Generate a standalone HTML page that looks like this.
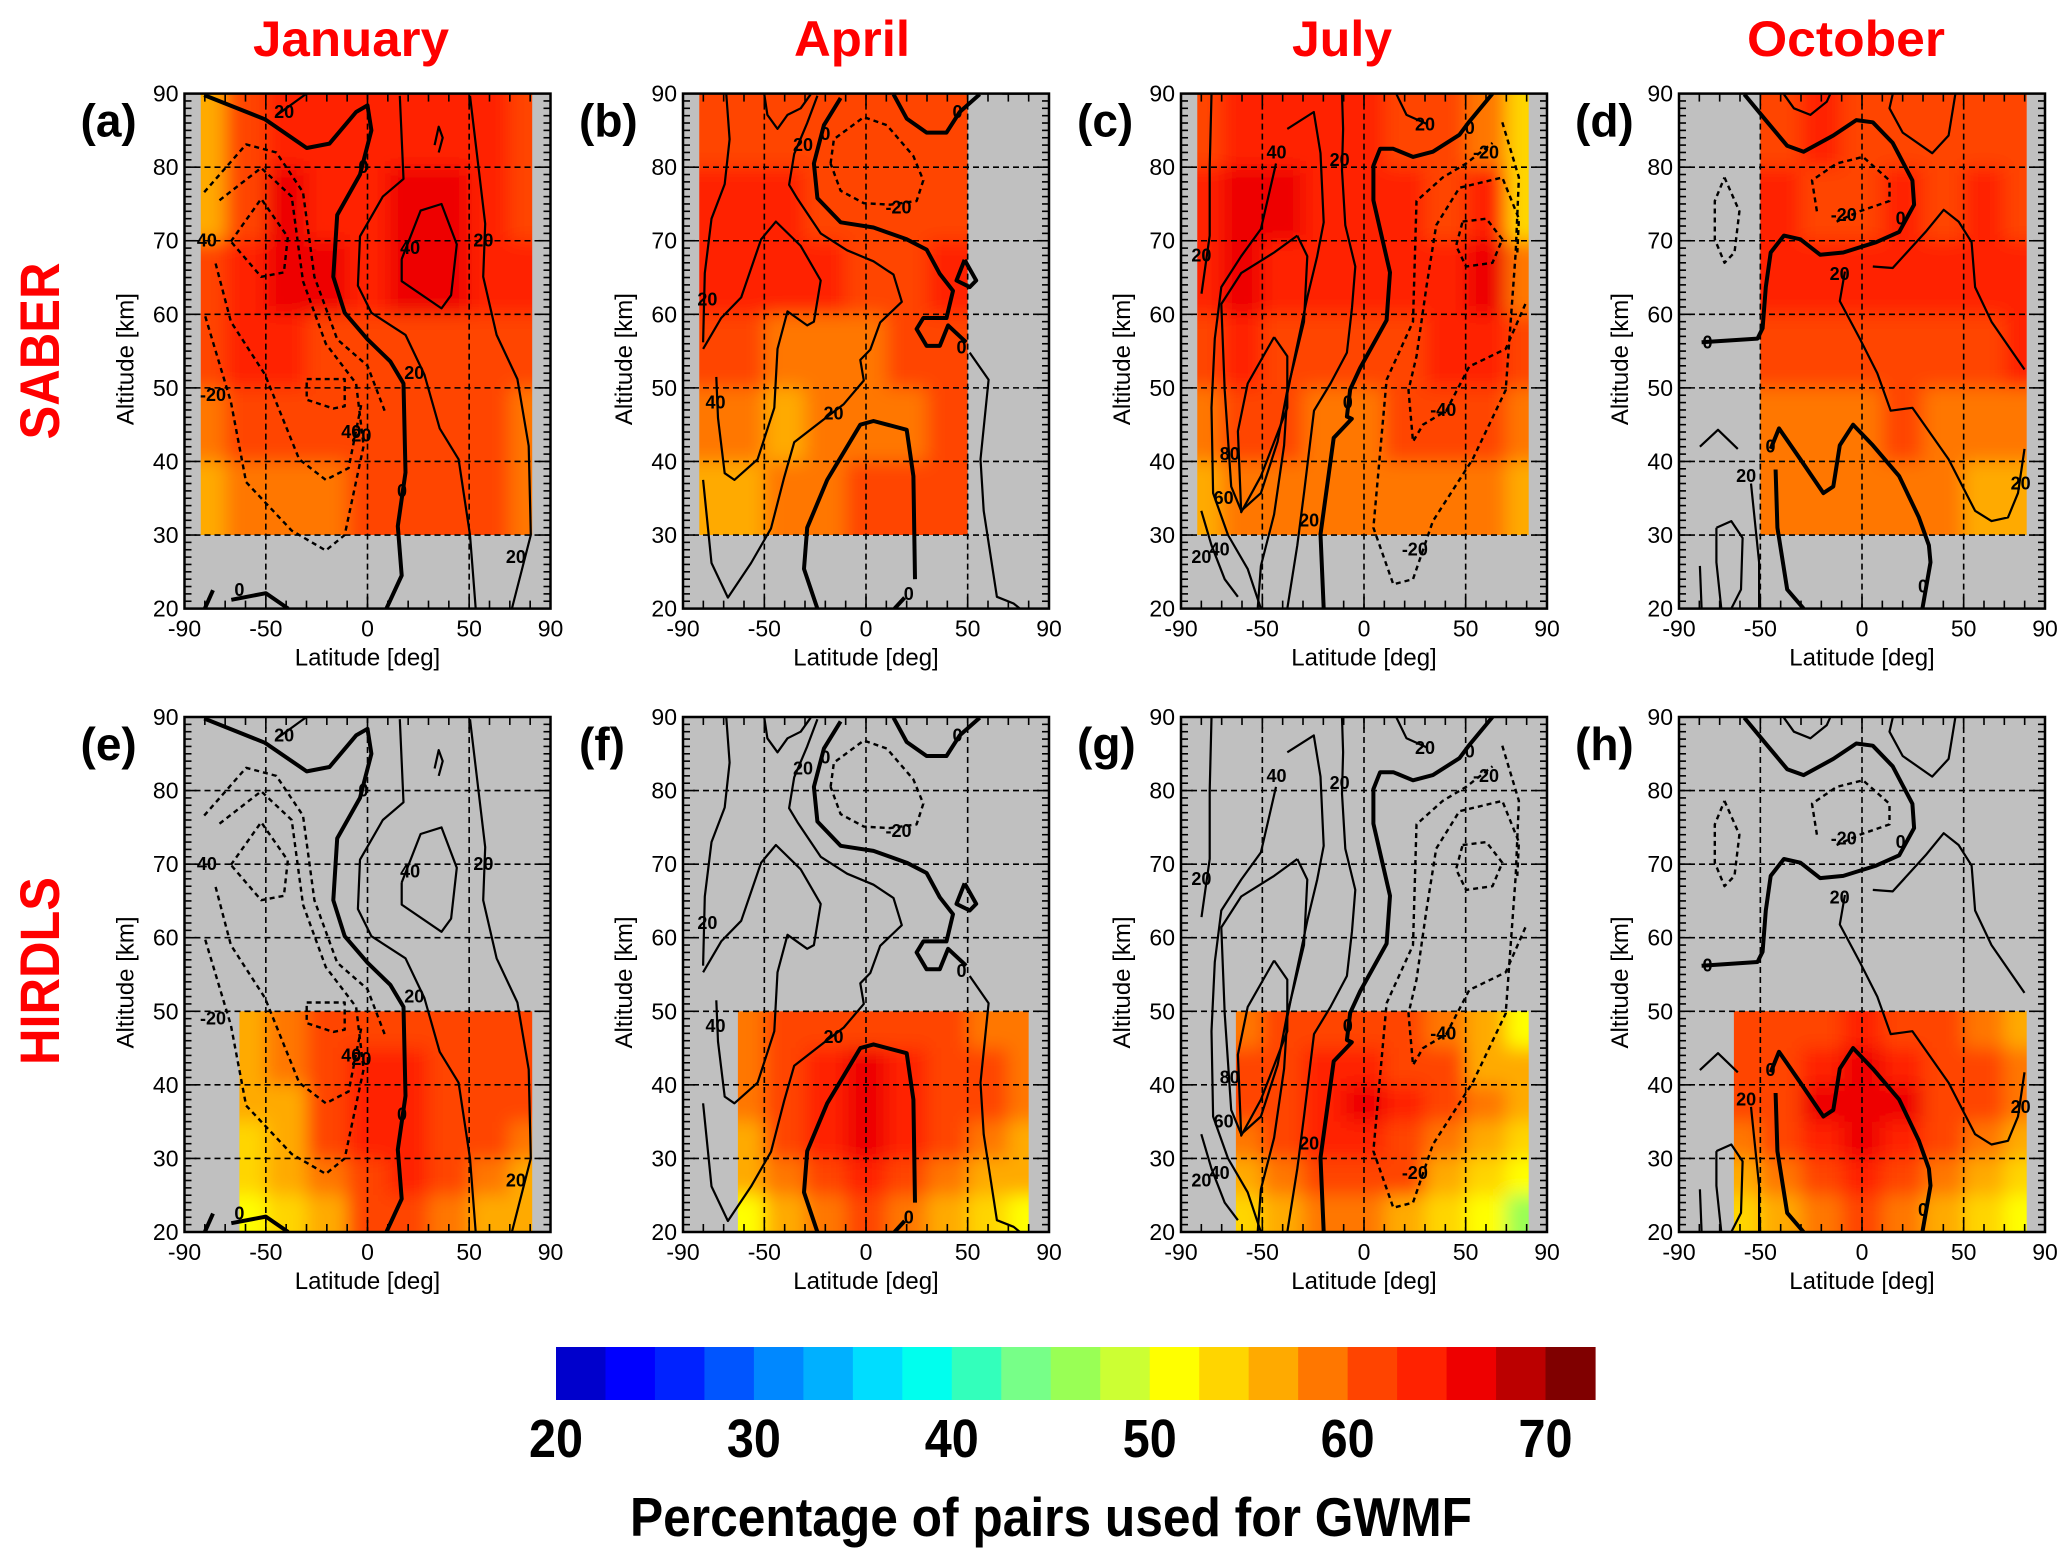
<!DOCTYPE html>
<html><head><meta charset="utf-8"><style>
html,body{margin:0;padding:0;background:#fff;}
svg{display:block;font-family:"Liberation Sans",sans-serif;}
</style></head><body>
<svg id="fig" width="2067" height="1558" viewBox="0 0 2067 1558" xmlns="http://www.w3.org/2000/svg">
<defs>
<filter id="blur" x="-20%" y="-20%" width="140%" height="140%"><feGaussianBlur stdDeviation="9"/></filter>
</defs>
<text x="351" y="56" font-size="50" font-weight="bold" fill="#f00" text-anchor="middle" textLength="196" lengthAdjust="spacingAndGlyphs">January</text>
<text x="852" y="56" font-size="50" font-weight="bold" fill="#f00" text-anchor="middle" textLength="116" lengthAdjust="spacingAndGlyphs">April</text>
<text x="1342" y="56" font-size="50" font-weight="bold" fill="#f00" text-anchor="middle" textLength="100" lengthAdjust="spacingAndGlyphs">July</text>
<text x="1846" y="56" font-size="50" font-weight="bold" fill="#f00" text-anchor="middle" textLength="198" lengthAdjust="spacingAndGlyphs">October</text>
<text transform="translate(59,351) rotate(-90)" font-size="56" font-weight="bold" fill="#f00" text-anchor="middle" textLength="177" lengthAdjust="spacingAndGlyphs">SABER</text>
<text transform="translate(59,971) rotate(-90)" font-size="56" font-weight="bold" fill="#f00" text-anchor="middle" textLength="188" lengthAdjust="spacingAndGlyphs">HIRDLS</text>
<g id="panels"></g>
<g id="cbar"></g>
<text x="1051" y="1536" font-size="55" font-weight="bold" fill="#000" text-anchor="middle" textLength="842" lengthAdjust="spacingAndGlyphs">Percentage of pairs used for GWMF</text>
</svg>
<script>
// ---- colour scale ----
const cbColors = ["#0000cc","#0000ff","#0022ff","#0055ff","#0088ff","#00b0ff","#00ddff","#00ffee","#33ffbb","#77ff88","#99ff55","#ccff33","#ffff00","#ffd500","#ffaa00","#ff7700","#ff4400","#ff2200","#ee0000","#bb0000","#800000"];
const cbMin = 20;
const cbStep = 2.5;
const cbTicks = [20,30,40,50,60,70];

// ---- heatmap data ----
const saberAlt = [85,75,65,55,45,35];
const hirdlsAlt = [47.5,42.5,37.5,32.5,27.5,22.5];
const latFull = [-80,-60,-40,-20,0,20,40,60,80];
const latB = [-80,-60,-40,-20,0,20,40];
const latD = [-40,-20,0,20,40,60,80];
const latH = [-60,-40,-20,0,20,40,60,80];
const valA = [[57,61,63,64,64,64,64,63,62],[55,62,66,64,64,65,65,63,62],[60,64,67,65,64,65,65,64,63],[60,63,64,62,61,62,62,62,61],[59,61,62,60,60,61,62,61,59],[56,58,59,59,60,61,61,60,58]];
const valB = [[61,62,62,62,62,61,61],[63,64,64,61,61,62,62],[64,64,64,63,62,62,63],[60,60,59,59,59,60,61],[58,58,57,58,59,59,60],[57,56,58,59,60,60,60]];
const valC = [[62,63,64,64,64,62,60,58,54],[64,65,65,64,64,63,62,64,53],[64,66,64,63,63,63,64,66,58],[62,63,62,61,61,61,63,63,60],[58,60,60,59,59,60,60,60,59],[57,58,59,59,59,59,59,58,56]];
const valD = [[62,63,62,62,62,62,62],[63,62,62,63,62,63,62],[64,64,64,63,63,63,64],[60,60,60,61,61,61,63],[59,58,59,60,59,58,58],[59,58,58,59,58,57,56]];
const valE = [[57,59,60,61,62,62,61,60],[56,58,61,63,63,62,61,60],[55,57,61,63,64,62,61,60],[54,56,60,63,64,62,60,58],[53,55,59,62,63,61,59,57],[51,53,56,60,61,59,57,55]];
const valF = [[58,60,61,62,61,60,59,58],[58,61,63,65,63,61,60,58],[58,61,63,66,64,62,60,58],[57,60,63,65,63,61,59,57],[55,58,61,63,61,59,57,55],[52,55,58,60,58,56,54,52]];
const valG = [[58,60,61,62,61,59,55,52],[60,61,63,64,62,60,57,55],[60,62,64,65,63,61,58,55],[59,61,63,64,62,59,56,53],[56,59,61,62,60,57,53,50],[53,55,58,59,57,54,50,46]];
const valH = [[60,61,62,63,62,61,59,57],[60,62,64,66,64,62,60,58],[60,62,65,67,65,62,60,58],[59,61,64,66,64,61,59,57],[57,59,62,64,62,59,56,54],[54,56,59,61,59,56,53,50]];

// ---- contour data (lat, alt) ----
const janC = [
 ["k",[[-80.3,89.8],[-50.4,86.5],[-29.9,82.6],[-18.7,83.2],[-5.6,87.5],[0,88.4],[1.9,85],[-3.7,79],[-14.9,73.5],[-16.8,65.1],[-11.2,60.2],[0,56.6],[11.2,53.6],[17.7,50.6],[18.7,38.5],[14.9,31.2],[16.8,24.5],[9.3,20]]],
 ["k",[[-67,21.2],[-50,22.1],[-39,20]]],
 ["k",[[-80,20],[-76,22.5]]],
 ["t",[[15.9,89.7],[17.7,78.4],[7.5,76],[-3.7,70.6],[-4.7,63.9],[1.9,60.2],[18.7,57.2],[28,51.8],[35.5,44.5],[44.8,40.3],[50.4,30],[53.2,20]]],
 ["t",[[16.8,67.5],[26.1,74.1],[36.4,75],[43.9,69.5],[41.1,62.6],[36.4,60.8],[16.8,64.5],[16.8,67.5]]],
 ["t",[[50.4,89.7],[57.9,72.3],[56.9,65.1],[63.5,57.2],[73.7,51.2],[79.3,42.1],[80.3,30],[71,20]]],
 ["t",[[33,83],[35,85.5],[37,84],[35,82]]],
 ["t",[[-45,87],[-35,89],[-30,90]]],
 ["d",[[-80.3,76.6],[-59.7,83.1],[-44.8,82],[-31.7,76.6],[-26.1,65.1],[-14.9,56.6],[0,53],[8.4,46.9]]],
 ["d",[[-72.8,75.5],[-52.3,79.9],[-37.3,76],[-31.7,64.5],[-20.5,56],[-5.6,50.6],[-1.9,42.1],[-11.2,30],[-20.5,27.9],[-37.3,30.6],[-59.7,37.2],[-67.2,48.1],[-80.3,60.2]]],
 ["d",[[-67.2,69.9],[-52.3,75.7],[-39.2,70.5],[-41.1,65.7],[-52.3,65.1],[-67.2,69.9]]],
 ["d",[[-74.7,66.9],[-67.2,59],[-50.4,51.8],[-33.6,40.3],[-20.5,37.5],[-9.3,39.1],[-2.8,48.1]]],
 ["d",[[-29.9,51.2],[-11.2,51.2],[-11.2,47.5],[-16.8,47.2],[-29.9,48.4],[-29.9,51.2]]]
];
const aprC = [
 ["k",[[13.5,89.9],[20,86.6],[29.8,84.7],[39.6,84.7],[46.1,87.5],[55.9,89.9]]],
 ["k",[[-12.5,89.4],[-20.7,85.7],[-25.6,80.5],[-23.9,75.8],[-12.5,72.5],[3.7,71.8],[20,70.2],[29.8,68.8],[36.3,65.5],[42.8,63.2],[39.6,59.5],[28.2,59.5],[24.9,58],[29.8,55.7],[36.3,55.7],[40.4,58.5],[49.3,56.2]]],
 ["k",[[48.5,67.4],[54.2,64.6],[51,63.7],[44.5,64.6],[48.5,67.4]]],
 ["k",[[-23.9,20],[-30.5,25.4],[-28.9,31],[-19.1,37.5],[-2.8,45],[3.7,45.5],[20,44.3],[23.3,38],[24.1,24]]],
 ["k",[[14,20],[19,21.5]]],
 ["t",[[-23.9,89.7],[-28.9,86],[-35.3,81.8],[-37.8,77.6],[-33.7,75.7],[-22.3,71],[-9.3,68.7],[3.7,67.2],[13.5,65.4],[17.6,61.7],[7,58.9],[2.1,55.2],[-2.8,53.8],[-1.1,51],[-10.9,47.8],[-22.3,45.4],[-35.3,42.6],[-40.2,37.9],[-46.7,30.9],[-56.5,26.2],[-67.9,21.5],[-76,26.2],[-80.1,37.5]]],
 ["t",[[-50,89.9],[-48.5,87.1],[-43.5,85.2],[-38.6,87.1],[-32.1,88],[-27.2,89.9]]],
 ["t",[[-80.1,55.3],[-71.2,59.5],[-61.4,62.3],[-51.6,70.2],[-44.3,72.6],[-32.1,69.3],[-22.3,64.6],[-25.6,59],[-28.9,58.5],[-38.6,60.4],[-43.5,55.3],[-45.1,47.3],[-53.3,40.3],[-64.7,37.5],[-69.5,38.4],[-72.8,45.9],[-73.6,51.5]]],
 ["t",[[-68.7,89.9],[-67.1,83.8],[-69.5,77.7],[-76,73],[-79.3,65.6],[-80.1,56.2]]],
 ["t",[[51,54.8],[60.3,51.1],[56.3,40.3],[57.9,33.3],[64.4,21.6],[72.6,20.7],[75.7,20]]],
 ["t",[[67,90],[80,90]]],
 ["d",[[-17.4,80.5],[-15.8,83.8],[-1.1,86.8],[10.3,85.7],[23.3,81.5],[28.2,78.2],[24.9,75.4],[11.9,74.9],[-1.1,75.1],[-12.5,76.8],[-17.4,80.5]]]
];
const julC = [
 ["k",[[63.2,90],[51.8,86.2],[46.9,84.4],[33.9,82.1],[24.1,81.4],[14.4,82.5],[7.9,82.5],[4.6,80.2],[4.6,75.5],[12.8,65.7],[11.1,59.2],[-1.9,52.7],[-6.8,49.8],[-8.4,46.1],[-6,45.8],[-14.9,43.2],[-21.4,30.1],[-19.8,20]]],
 ["t",[[-10.8,89.9],[-10.3,85.2],[-10.8,79.6],[-9.2,72.1],[-4.3,66.5],[-5.9,60.9],[-8.4,54.8],[-16.5,50.6],[-24.6,46.9],[-29.5,35.7],[-32.8,28.6],[-37.7,20]]],
 ["t",[[16,89.9],[20.9,87.1],[30.7,85.9]]],
 ["t",[[-37.7,85.2],[-24.7,87.5],[-21.4,81.9],[-19.8,72.5],[-23,67.9],[-27.9,62.3],[-34.4,53.8],[-37.7,49.2],[-39.3,42.2],[-44.2,32.8],[-50.7,25.8],[-52.3,20]]],
 ["t",[[-43.3,80.5],[-50.7,71.6],[-60.4,67.9],[-70.2,63.7],[-73.4,56.7],[-75,47.3],[-74.2,35.7],[-66.9,30],[-57.2,25.4],[-50.7,20]]],
 ["t",[[-32.8,70.7],[-27.9,67.9],[-29.5,59],[-34.4,53.4],[-37.7,49.7],[-42.5,42.7],[-50.7,35.7],[-60.4,33.3],[-65.3,36.6],[-68.5,49.7],[-70.2,61.4],[-60.4,65.6],[-44.2,68.4],[-32.8,70.7]]],
 ["t",[[-44.2,56.9],[-37.7,54.3],[-37.7,47.3],[-50.7,38],[-60.4,33.1],[-62,44.1],[-57.2,50.6],[-44.2,56.9]]],
 ["t",[[-75,89.9],[-75.9,80],[-75.9,70.7],[-79.9,62.8]]],
 ["t",[[-80,33.3],[-75,28.6],[-68.5,24],[-62,21.6]]],
 ["d",[[68,86.1],[76.2,78.6],[74.6,68.4],[69.7,49.7],[53.4,40.3],[33.9,31.9],[24.1,24],[14.4,23.3],[4.6,31],[11.1,51.1],[24.1,59],[25.8,75.4],[38.7,78.6],[50.2,80.5],[63.2,83.3]]],
 ["d",[[79.4,61.4],[69.7,55.3],[51.8,52.9],[40.5,46.9],[29,45],[24.1,42.7],[21.9,49.7],[25.8,54.3],[30.7,63.7],[35.5,72.1],[46.9,77.2],[68,78.6],[76.2,73],[75.4,68.4]]],
 ["d",[[48.5,72.6],[60.2,73],[68,70.2],[63.2,67],[50.2,66.5],[45.3,69.3],[48.5,72.6]]]
];
const octC = [
 ["k",[[-57.9,89.9],[-46.5,86.1],[-36.8,82.9],[-28.7,82.1],[-14.1,84.3],[-2.8,86.4],[5.3,86.1],[15.1,83.3],[24.8,78.2],[25.6,74.9],[18.3,71.2],[7,69.8],[-9.2,68.4],[-20.6,68.1],[-30.3,70.2],[-38.4,70.7],[-44.9,68.4],[-47.3,63.7],[-48.9,58.1],[-51.4,56.7],[-78.9,56.2]]],
 ["k",[[-44.9,41.7],[-40.8,44.5],[-30.3,40.3],[-19,35.7],[-14.1,36.6],[-10.9,42.2],[-4.4,45],[5.3,42.2],[18.3,38],[28,32.4],[32.9,28.6],[33.7,26.3],[29.7,20]]],
 ["k",[[-42.5,38.9],[-41.6,31],[-36.8,22.6],[-28.7,20]]],
 ["t",[[-38.4,89.9],[-33.5,88],[-25.4,87.1],[-17.3,88.9],[-15.7,89.9]]],
 ["t",[[15.1,89.9],[13.5,88],[20,84.7],[34.5,81.9],[42.6,84.3],[45.9,89.9]]],
 ["t",[[5.3,66.5],[15.1,66.3],[31.3,71.2],[40.2,74.2],[47.5,72.6],[53.9,69.8],[55.6,63.7],[63.7,59],[79.9,52.5]]],
 ["t",[[-8.4,65.8],[-10.9,61.8],[-1.1,56.7],[7.5,52],[14.1,46.9],[24.8,47.3],[42.6,40.3],[55.6,33.3],[63.7,31.9],[71.8,32.4],[76.7,35.7],[79.9,41.7]]],
 ["t",[[-79.7,42],[-70.8,44.3],[-61.1,41.7]]],
 ["t",[[-54.6,37],[-50.6,26.3],[-50.6,20]]],
 ["t",[[-71.6,31],[-64.3,31.9],[-58.7,29.6],[-59.5,22.6],[-64.3,20],[-69.2,20],[-71.6,26.3],[-71.6,31]]],
 ["t",[[-79.7,25.8],[-78.9,20]]],
 ["d",[[-22.2,74],[-24.6,78.2],[-12.5,80.5],[0.5,81.4],[13.5,78.2],[13.5,75.4],[-1.1,74],[-12.5,72.6]]],
 ["d",[[-67.6,78.6],[-60.3,74],[-62.7,68.4],[-67.6,67],[-72.4,70.2],[-72.4,75.4],[-67.6,78.6]]]
];
const janL = [[-2,80,"0"],[21,69,"40"],[57,70,"20"],[23,52,"20"],[-8,44,"40"],[-3,43.5,"20"],[17,36,"0"],[-76,49,"-20"],[-79,70,"40"],[73,27,"20"],[-41,87.5,"20"],[-63,22.5,"0"]];
const aprL = [[-20,84.5,"0"],[-31,83,"20"],[16,74.5,"-20"],[45,87.5,"0"],[47,55.5,"0"],[-16,46.5,"20"],[-74,48,"40"],[-78,62,"20"],[21,22,"0"]];
const julL = [[-43,82,"40"],[-12,81,"20"],[30,85.8,"20"],[52,85.3,"0"],[60,82,"-20"],[-8,48,"0"],[39,47,"-40"],[-66,41,"80"],[-69,35,"60"],[-71,28,"40"],[-80,27,"20"],[-80,68,"20"],[-27,32,"20"],[25,28,"-20"]];
const octL = [[19,73,"0"],[-9,73.5,"-20"],[-11,65.5,"20"],[-76,56.2,"0"],[-45,42,"0"],[-57,38,"20"],[30,23,"0"],[78,37,"20"]];

// ---- layout ----
const colX = [184.5, 683, 1181, 1679];
const rowY = [93.6, 717];
const PW = 366, PH = 515;
const panelDefs = [
 {id:"a",r:0,c:0,lat:latFull,alt:saberAlt,val:valA,dh:10,reg:[-82,81,30,90],con:janC,lab:janL},
 {id:"b",r:0,c:1,lat:latB,alt:saberAlt,val:valB,dh:10,reg:[-82,50,30,90],con:aprC,lab:aprL},
 {id:"c",r:0,c:2,lat:latFull,alt:saberAlt,val:valC,dh:10,reg:[-82,81,30,90],con:julC,lab:julL},
 {id:"d",r:0,c:3,lat:latD,alt:saberAlt,val:valD,dh:10,reg:[-50,81,30,90],con:octC,lab:octL},
 {id:"e",r:1,c:0,lat:latH,alt:hirdlsAlt,val:valE,dh:5,reg:[-63,81,20,50],con:janC,lab:janL},
 {id:"f",r:1,c:1,lat:latH,alt:hirdlsAlt,val:valF,dh:5,reg:[-63,80,20,50],con:aprC,lab:aprL},
 {id:"g",r:1,c:2,lat:latH,alt:hirdlsAlt,val:valG,dh:5,reg:[-63,81,20,50],con:julC,lab:julL},
 {id:"h",r:1,c:3,lat:latH,alt:hirdlsAlt,val:valH,dh:5,reg:[-63,81,20,50],con:octC,lab:octL}
];
const NS = "http://www.w3.org/2000/svg";
function mk(tag, attrs, parent){
  const e = document.createElementNS(NS, tag);
  for (const k in attrs) e.setAttribute(k, attrs[k]);
  if (parent) parent.appendChild(e);
  return e;
}
function colorFor(v){
  let i = Math.floor((v - cbMin)/cbStep);
  i = Math.max(0, Math.min(cbColors.length-1, i));
  return cbColors[i];
}
const root = document.getElementById("panels");
panelDefs.forEach(p => {
  const X0 = colX[p.c], Y0 = rowY[p.r];
  const xs = lat => X0 + (lat + 90)/180*PW;
  const ys = alt => Y0 + (90 - alt)/70*PH;
  const g = mk("g", {}, root);
  
  
  const bg = mk("rect", {x:X0, y:Y0, width:PW, height:PH, fill:"#c0c0c0"}, g);
  
  
  const cid = "clip" + p.id;
  const cp = mk("clipPath", {id:cid}, g);
  mk("rect", {x:xs(p.reg[0]), y:ys(p.reg[3]), width:xs(p.reg[1])-xs(p.reg[0]), height:ys(p.reg[2])-ys(p.reg[3])}, cp);
  const hc = mk("g", {"clip-path":"url(#"+cid+")"}, g);
  
  
  const hb = mk("g", {filter:"url(#blur)"}, hc);
  const nL = p.lat.length, nA = p.alt.length;
  const dl = p.lat[1]-p.lat[0];
  p.alt.forEach((a, i) => {
    p.lat.forEach((l, j) => {
      const l0 = j===0 ? -130 : l - dl/2;
      const l1 = j===nL-1 ? 130 : l + dl/2;
      const a1 = i===0 ? 110 : a + p.dh/2;
      const a0 = i===nA-1 ? 0 : a - p.dh/2;
      const cell = mk("rect", {x:xs(l0), y:ys(a1), width:xs(l1)-xs(l0)+0.5, height:ys(a0)-ys(a1)+0.5, fill:colorFor(p.val[i][j])}, hb);
      
      
    });
  });
  const clipFrame = "cf" + p.id;
  const cf = mk("clipPath", {id:clipFrame}, g);
  mk("rect", {x:X0, y:Y0, width:PW, height:PH}, cf);
  const gg = mk("g", {stroke:"#000", "stroke-width":1.6, "stroke-dasharray":"6,4", fill:"none"}, g);
  
  
  [-50,0,50].forEach(l => mk("line", {x1:xs(l), x2:xs(l), y1:Y0, y2:Y0+PH}, gg));
  [30,40,50,60,70,80].forEach(a => mk("line", {x1:X0, x2:X0+PW, y1:ys(a), y2:ys(a)}, gg));
  const cg = mk("g", {"clip-path":"url(#"+clipFrame+")", fill:"none", stroke:"#000", "stroke-linejoin":"round"}, g);
  
  
  p.con.forEach(c => {
    const d = c[1].map((pt, k) => (k?"L":"M") + xs(pt[0]).toFixed(1) + "," + ys(pt[1]).toFixed(1)).join("");
    const attrs = {d:d};
    if (c[0]==="k") attrs["stroke-width"] = 4;
    else if (c[0]==="t") attrs["stroke-width"] = 2.2;
    else { attrs["stroke-width"] = 2.4; attrs["stroke-dasharray"] = "5,4"; }
    const pe = mk("path", attrs, cg);
    
    
  });
  p.lab.forEach(lb => {
    const t = mk("text", {x:xs(lb[0]), y:ys(lb[1])+6, "font-size":18, "font-weight":"bold", "text-anchor":"middle", fill:"#000"}, g);
    t.textContent = lb[2];
    
    
  });
  const tk = mk("g", {stroke:"#000", "stroke-width":1.6}, g);
  
  
  for (let l=-90; l<=90; l+=10){
    const len = (l%50===0 || l===90 || l===-90) ? 12 : 8;
    mk("line", {x1:xs(l), x2:xs(l), y1:Y0+PH, y2:Y0+PH-len}, tk);
    mk("line", {x1:xs(l), x2:xs(l), y1:Y0, y2:Y0+len}, tk);
  }
  for (let a=20; a<=90; a+=1){
    const len = a%10===0 ? 12 : 7;
    mk("line", {x1:X0, x2:X0+len, y1:ys(a), y2:ys(a)}, tk);
    mk("line", {x1:X0+PW, x2:X0+PW-len, y1:ys(a), y2:ys(a)}, tk);
  }
  const fr = mk("rect", {x:X0, y:Y0, width:PW, height:PH, fill:"none", stroke:"#000", "stroke-width":2.5}, g);
  
  
  [-90,-50,0,50,90].forEach(l => {
    const t = mk("text", {x:xs(l), y:Y0+PH+28, "font-size":23, "text-anchor":"middle", fill:"#000"}, g);
    t.textContent = String(l);
    
    
  });
  [20,30,40,50,60,70,80,90].forEach(a => {
    const t = mk("text", {x:X0-6, y:ys(a)+8, "font-size":23, "text-anchor":"end", fill:"#000"}, g);
    t.textContent = String(a);
    
    
  });
  const xt = mk("text", {x:X0+PW/2, y:Y0+PH+57, "font-size":24, "text-anchor":"middle", fill:"#000"}, g);
  xt.textContent = "Latitude [deg]";
  
  
  const yt = mk("text", {transform:"translate("+(X0-51)+","+(Y0+PH/2+8)+") rotate(-90)", "font-size":24, "text-anchor":"middle", fill:"#000"}, g);
  yt.textContent = "Altitude [km]";
  
  
  const pl = mk("text", {x:X0-104, y:Y0+43, "font-size":46, "font-weight":"bold", fill:"#000"}, g);
  pl.textContent = "(" + p.id + ")";
  
  
});
const cb = document.getElementById("cbar");
const CBX0 = 556, CBX1 = 1595, CBY = 1347, CBH = 53;
const binW = (CBX1-CBX0)/cbColors.length;
const cbx = v => CBX0 + (v - cbMin)/cbStep*binW;
cbColors.forEach((c, i) => {
  const r = mk("rect", {x:cbx(cbMin + i*cbStep), y:CBY, width:binW+0.6, height:CBH, fill:c}, cb);
  
  
});
cbTicks.forEach(v => {
  const t = mk("text", {x:cbx(v), y:1457, "font-size":54, "font-weight":"bold", "text-anchor":"middle", fill:"#000", textLength:54, lengthAdjust:"spacingAndGlyphs"}, cb);
  t.textContent = String(v);
  
  
});
</script>
</body></html>
